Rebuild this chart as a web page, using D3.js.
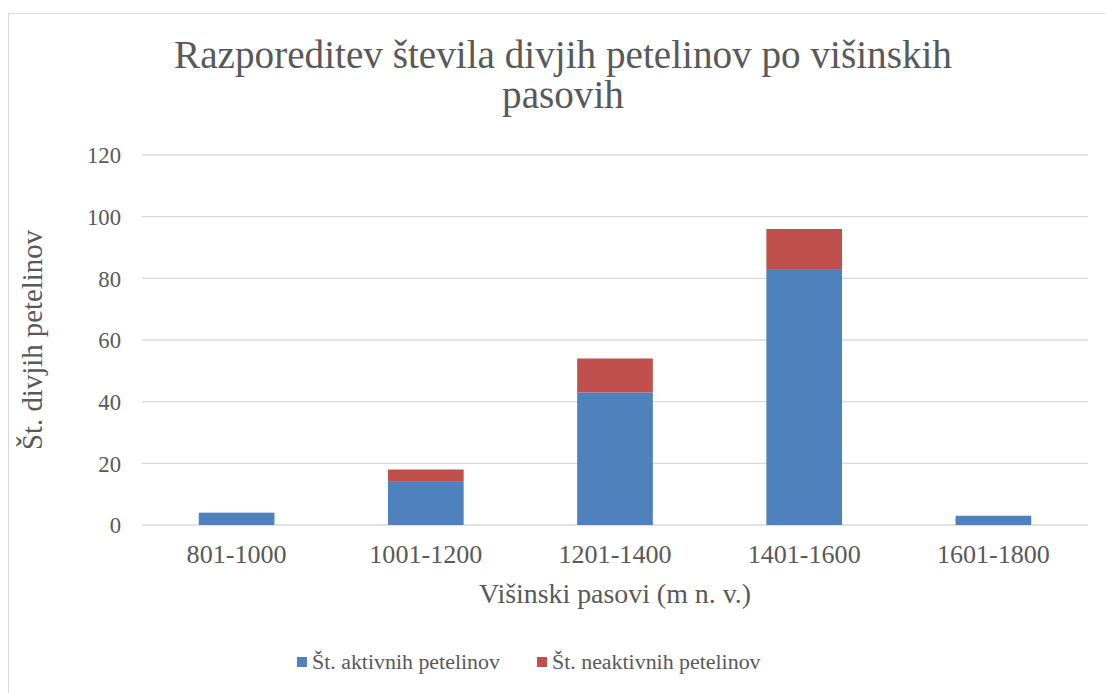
<!DOCTYPE html>
<html><head><meta charset="utf-8">
<script src="https://cdn.jsdelivr.net/npm/d3@7"></script>
<style>body{margin:0;background:#fff}svg{display:block}text{font-family:"Liberation Serif","DejaVu Serif",serif;fill:#595959}</style>
</head><body><svg id="c" width="1105" height="693"></svg>
<script>
const categories = ["801-1000","1001-1200","1201-1400","1401-1600","1601-1800"];
const active = [4,14,43,83,3];
const inactive = [0,4,11,13,0];
const seriesNames = ["Št. aktivnih petelinov","Št. neaktivnih petelinov"];
const yTicks = [0,20,40,60,80,100,120];
const colors = ["#4f81bd","#c0504d"];

const svg = d3.select("#c");
svg.append("rect").attr("x",8.5).attr("y",13.5).attr("width",1110).attr("height",700)
  .attr("fill","#fff").attr("stroke","#d9d9d9");

const x = d3.scaleBand().domain(categories).range([142,1088]).paddingInner(0.6).paddingOuter(0.3);
const y = d3.scaleLinear().domain([0,120]).range([525,155]);

function fit(sel, w){ sel.each(function(){ const fs=parseFloat(this.getAttribute("font-size")); const l=this.getComputedTextLength(); this.setAttribute("font-size",(fs*w/l).toFixed(2)); }); return sel; }

svg.append("g").selectAll("line").data(yTicks).join("line")
  .attr("x1",142).attr("x2",1088).attr("y1",d=>y(d)).attr("y2",d=>y(d))
  .attr("stroke","#d9d9d9").attr("stroke-width",1.3);

const data = categories.map((c,i)=>({cat:c, a:active[i], n:inactive[i]}));
const stack = d3.stack().keys(["a","n"])(data);
svg.append("g").selectAll("g").data(stack).join("g").attr("fill",(d,i)=>colors[i])
  .selectAll("rect").data(d=>d.filter(p=>p[1]>p[0])).join("rect")
  .attr("x",d=>x(d.data.cat)).attr("width",x.bandwidth())
  .attr("y",d=>y(d[1])).attr("height",d=>y(d[0])-y(d[1]));

const yax = svg.append("g").attr("transform","translate(121,0)")
  .call(d3.axisLeft(y).tickValues(yTicks).tickSize(0).tickPadding(0));
yax.select(".domain").remove();
yax.selectAll("text").attr("font-size",19).attr("font-family",null).attr("fill","#595959").attr("dy","0.35em");
fit(yax.selectAll("text").filter(d=>d===120),34);
const yfs = yax.selectAll("text").filter(d=>d===120).attr("font-size");
yax.selectAll("text").attr("font-size",yfs);

const xax = svg.append("g").attr("transform","translate(0,525)")
  .call(d3.axisBottom(x).tickSize(0).tickPadding(0));
xax.select(".domain").remove();
xax.selectAll("text").attr("font-size",19).attr("font-family",null).attr("fill","#595959").attr("dy",0).attr("y",38);
fit(xax.selectAll("text").filter(d=>d==="801-1000"),100);
const xfs = xax.selectAll("text").filter(d=>d==="801-1000").attr("font-size");
xax.selectAll("text").attr("font-size",xfs);

const t1 = svg.append("text").attr("x",563).attr("y",68).attr("text-anchor","middle").attr("font-size",33)
  .text("Razporeditev števila divjih petelinov po višinskih");
fit(t1,778);
svg.append("text").attr("x",563).attr("y",108).attr("text-anchor","middle").attr("font-size",t1.attr("font-size"))
  .text("pasovih");

const xt = svg.append("text").attr("x",615).attr("y",603).attr("text-anchor","middle").attr("font-size",21)
  .text("Višinski pasovi (m n. v.)");
fit(xt,272);
const yt = svg.append("text").attr("transform","translate(42,340) rotate(-90)").attr("text-anchor","middle").attr("font-size",21)
  .text("Št. divjih petelinov");
fit(yt,220);

const legX = [297,537];
const lg = svg.append("g").selectAll("g").data(seriesNames).join("g")
  .attr("transform",(d,i)=>`translate(${legX[i]},657)`);
lg.append("rect").attr("width",10).attr("height",10).attr("fill",(d,i)=>colors[i]);
const lt = lg.append("text").attr("x",15).attr("y",12).attr("font-size",19).text(d=>d);
fit(lt.filter((d,i)=>i===0),188);
lt.attr("font-size",lt.filter((d,i)=>i===0).attr("font-size"));
</script></body></html>
